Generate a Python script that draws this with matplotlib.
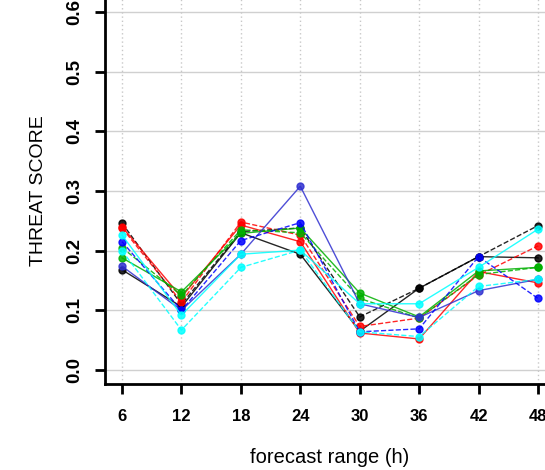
import matplotlib
matplotlib.use("Agg")
import matplotlib.pyplot as plt
import matplotlib.transforms as mtransforms

plt.rcParams['font.family'] = ['Liberation Sans', 'DejaVu Sans']

hours = [6, 12, 18, 24, 30, 36, 42, 48]
x_tick_labels = ["6", "12", "18", "24", "30", "36", "42", "48"]
y_ticks = [0.0, 0.1, 0.2, 0.3, 0.4, 0.5, 0.6]
y_tick_labels = ["0.0", "0.1", "0.2", "0.3", "0.4", "0.5", "0.6"]

black_solid = [0.168, 0.106, 0.230, 0.194, 0.065, 0.137, 0.190, 0.188]
black_dashed = [0.246, 0.110, 0.232, 0.238, 0.089, 0.137, 0.190, 0.242]
red_solid = [0.240, 0.122, 0.243, 0.215, 0.062, 0.052, 0.165, 0.146]
red_dashed = [0.238, 0.114, 0.248, 0.226, 0.073, 0.087, 0.159, 0.208]
green_solid = [0.188, 0.131, 0.229, 0.238, 0.129, 0.089, 0.166, 0.172]
green_dashed = [0.205, 0.125, 0.235, 0.230, 0.120, 0.087, 0.160, 0.172]
blue_solid = [0.174, 0.100, 0.194, 0.308, 0.111, 0.088, 0.133, 0.152]
blue_dashed = [0.215, 0.100, 0.217, 0.247, 0.064, 0.069, 0.190, 0.120]
cyan_solid = [0.226, 0.092, 0.194, 0.201, 0.111, 0.111, 0.172, 0.236]
cyan_dashed = [0.200, 0.067, 0.172, 0.201, 0.064, 0.056, 0.140, 0.152]

series = [
    (black_solid, "black", "-"),
    (black_dashed, "black", "--"),
    (red_solid, "red", "-"),
    (red_dashed, "red", "--"),
    (green_solid, "#00b000", "-"),
    (green_dashed, "#00b000", "--"),
    (blue_solid, "#3030d0", "-"),
    (blue_dashed, "blue", "--"),
    (cyan_solid, "cyan", "-"),
    (cyan_dashed, "cyan", "--"),
]

fig = plt.figure(figsize=(5.45, 4.70), dpi=100)
ax = fig.add_axes([0.1934, 0.1823, 0.8242, 0.8226])

for vals, col, ls in series:
    ax.plot(hours, vals, color=col, linestyle=ls, linewidth=1.0,
            marker='o', markersize=5, markerfacecolor=col,
            markeredgecolor=col, alpha=0.85, zorder=3)

ax.set_xlim(4.32, 49.68)
ax.set_ylim(-0.024, 0.624)
ax.set_xticks(hours)
ax.set_xticklabels(x_tick_labels, fontsize=12, fontweight='bold')
ax.set_yticks(y_ticks)
ax.set_yticklabels(y_tick_labels, fontsize=13.5, fontweight='bold',
                   rotation=90, va='center')
shift = mtransforms.ScaledTranslation(0, 5 / 100, fig.dpi_scale_trans)
for lbl in ax.get_yticklabels():
    lbl.set_transform(lbl.get_transform() + shift)

for y in y_ticks:
    ax.axhline(y, color='#d0d0d0', linewidth=1.0, zorder=1)
for x in hours:
    ax.axvline(x, color='#c8c8c8', linewidth=1.0, linestyle=(0, (1, 2)), zorder=1)

for s in ['top', 'right']:
    ax.spines[s].set_visible(False)
for s in ['left', 'bottom']:
    ax.spines[s].set_linewidth(2.0)
    ax.spines[s].set_color('black')

ax.tick_params(axis='x', length=7, width=2.0, direction='out', pad=11)
ax.tick_params(axis='y', length=7, width=2.0, direction='out', pad=9)
ax.set_xlabel("forecast range (h)", fontsize=14.5, labelpad=17)
ax.set_ylabel("THREAT SCORE", fontsize=14, labelpad=14)

fig.savefig("out.png", dpi=100)
